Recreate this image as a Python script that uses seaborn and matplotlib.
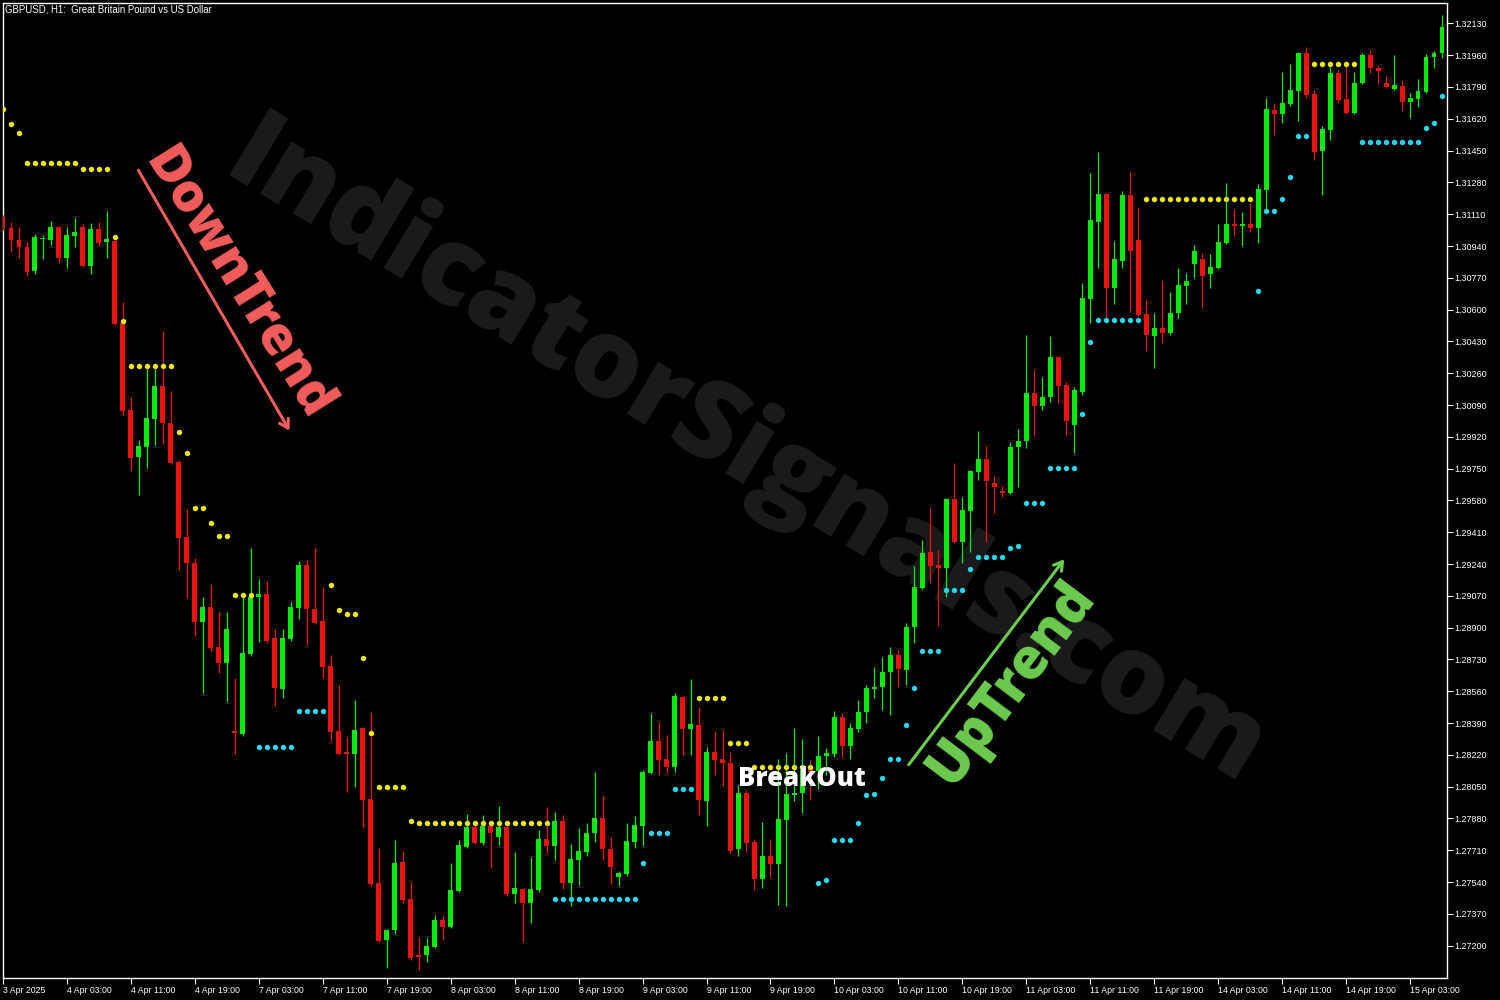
import numpy as np
import pandas as pd
import matplotlib
matplotlib.use("Agg")
import matplotlib.pyplot as plt
import seaborn as sns

# GBPUSD H1 candles (bar 0 = 3 Apr 2025 19:00)
open_ = [
    1.31095, 1.31036, 1.30972, 1.30934, 1.30806, 1.30977, 1.30972, 1.31041, 1.30876, 1.30993,
    1.31041, 1.30833, 1.31031, 1.30961, 1.30967, 1.30528, 1.30063, 1.29812, 1.29865, 1.30015,
    1.30191, 1.29994, 1.29785, 1.29384, 1.29245, 1.28930, 1.29010, 1.28796, 1.28711, 1.28347,
    1.28331, 1.28759, 1.29063, 1.29080, 1.28844, 1.28572, 1.28839, 1.29005, 1.29235, 1.28999,
    1.28935, 1.28695, 1.28347, 1.28235, 1.28224, 1.28363, 1.27984, 1.27535, 1.27230, 1.27283,
    1.27647, 1.27449, 1.27150, 1.27150, 1.27192, 1.27337, 1.27299, 1.27492, 1.27727, 1.27834,
    1.27748, 1.27839, 1.27780, 1.27834, 1.27476, 1.27502, 1.27428, 1.27497, 1.27770, 1.27732,
    1.27866, 1.27535, 1.27657, 1.27700, 1.27802, 1.27882, 1.27716, 1.27567, 1.27583, 1.27754,
    1.27839, 1.28123, 1.28294, 1.28197, 1.28155, 1.28529, 1.28358, 1.28379, 1.27973, 1.28235,
    1.28197, 1.28176, 1.27716, 1.28016, 1.27754, 1.27556, 1.27679, 1.27636, 1.27871, 1.28005,
    1.28016, 1.28149, 1.28133, 1.28213, 1.28224, 1.28422, 1.28267, 1.28358, 1.28449, 1.28572,
    1.28582, 1.28663, 1.28753, 1.28673, 1.28903, 1.29112, 1.29304, 1.29235, 1.29218, 1.29587,
    1.29357, 1.29523, 1.29732, 1.29801, 1.29673, 1.29630, 1.29619, 1.29865, 1.29897, 1.30154,
    1.30085, 1.30133, 1.30346, 1.30197, 1.29983, 1.30159, 1.30657, 1.31068, 1.31218, 1.30715,
    1.30860, 1.31213, 1.30972, 1.30576, 1.30459, 1.30502, 1.30475, 1.30582, 1.30726, 1.30844,
    1.30870, 1.30790, 1.30822, 1.30956, 1.31058, 1.31047, 1.31058, 1.31036, 1.31239, 1.31667,
    1.31646, 1.31699, 1.31769, 1.31972, 1.31753, 1.31448, 1.31560, 1.31865, 1.31726, 1.31651,
    1.31811, 1.31961, 1.31891, 1.31811, 1.31779, 1.31795, 1.31710, 1.31726, 1.31763, 1.31950,
    1.31972,
]
high = [
    1.31106, 1.31068, 1.31041, 1.30961, 1.31004, 1.30999, 1.31074, 1.31047, 1.31041, 1.31090,
    1.31058, 1.31063, 1.31068, 1.31127, 1.30999, 1.30641, 1.30133, 1.29903, 1.30288, 1.30288,
    1.30486, 1.30165, 1.29796, 1.29534, 1.29272, 1.29063, 1.29133, 1.28983, 1.28983, 1.28630,
    1.29063, 1.29325, 1.29160, 1.29149, 1.28892, 1.28892, 1.29037, 1.29256, 1.29261, 1.29325,
    1.29117, 1.28753, 1.28593, 1.28315, 1.28513, 1.28369, 1.28449, 1.27722, 1.27289, 1.27764,
    1.27706, 1.27540, 1.27246, 1.27240, 1.27363, 1.27363, 1.27641, 1.27764, 1.27903, 1.27845,
    1.27898, 1.27845, 1.27946, 1.27839, 1.27700, 1.27508, 1.27673, 1.27818, 1.27941, 1.27914,
    1.27898, 1.27743, 1.27828, 1.27855, 1.28128, 1.27999, 1.27780, 1.27599, 1.27855, 1.27893,
    1.28139, 1.28443, 1.28395, 1.28326, 1.28550, 1.28534, 1.28625, 1.28475, 1.28261, 1.28347,
    1.28352, 1.28235, 1.28058, 1.28032, 1.27770, 1.27861, 1.27770, 1.28197, 1.28230, 1.28363,
    1.28304, 1.28192, 1.28320, 1.28256, 1.28454, 1.28443, 1.28390, 1.28513, 1.28593, 1.28689,
    1.28743, 1.28796, 1.28780, 1.28924, 1.29229, 1.29368, 1.29545, 1.29315, 1.29593, 1.29780,
    1.29598, 1.29742, 1.29951, 1.29871, 1.29710, 1.29657, 1.29892, 1.29962, 1.30464, 1.30277,
    1.30240, 1.30459, 1.30352, 1.30213, 1.30186, 1.30742, 1.31330, 1.31442, 1.31223, 1.30967,
    1.31234, 1.31335, 1.31148, 1.30651, 1.30582, 1.30758, 1.30694, 1.30822, 1.30796, 1.30945,
    1.30902, 1.30897, 1.31058, 1.31277, 1.31138, 1.31122, 1.31170, 1.31271, 1.31731, 1.31704,
    1.31870, 1.31913, 1.31977, 1.32004, 1.31774, 1.31581, 1.31897, 1.31881, 1.31908, 1.31870,
    1.31972, 1.31988, 1.31902, 1.31849, 1.31961, 1.31827, 1.31758, 1.31833, 1.31966, 1.31982,
    1.32175,
]
low = [
    1.31025, 1.30908, 1.30876, 1.30780, 1.30790, 1.30870, 1.30945, 1.30849, 1.30822, 1.30934,
    1.30828, 1.30790, 1.30940, 1.30876, 1.30518, 1.30036, 1.29737, 1.29609, 1.29753, 1.29876,
    1.29881, 1.29774, 1.29208, 1.29058, 1.28855, 1.28550, 1.28775, 1.28657, 1.28502, 1.28224,
    1.28320, 1.28748, 1.28823, 1.28818, 1.28481, 1.28524, 1.28828, 1.28946, 1.28807, 1.28919,
    1.28630, 1.28294, 1.28219, 1.28021, 1.28048, 1.27834, 1.27518, 1.27219, 1.27080, 1.27262,
    1.27428, 1.27123, 1.27069, 1.27112, 1.27187, 1.27230, 1.27294, 1.27486, 1.27722, 1.27743,
    1.27738, 1.27615, 1.27738, 1.27465, 1.27428, 1.27219, 1.27321, 1.27486, 1.27695, 1.27657,
    1.27502, 1.27411, 1.27524, 1.27679, 1.27754, 1.27657, 1.27529, 1.27518, 1.27572, 1.27722,
    1.27732, 1.28117, 1.28112, 1.28123, 1.28128, 1.28219, 1.28219, 1.27898, 1.27839, 1.28112,
    1.28053, 1.27695, 1.27679, 1.27700, 1.27497, 1.27508, 1.27567, 1.27417, 1.27411, 1.27973,
    1.27909, 1.27978, 1.28037, 1.28112, 1.28208, 1.28208, 1.28197, 1.28342, 1.28390, 1.28524,
    1.28459, 1.28433, 1.28582, 1.28593, 1.28818, 1.29106, 1.29138, 1.28908, 1.29063, 1.29352,
    1.29245, 1.29304, 1.29689, 1.29357, 1.29513, 1.29598, 1.29614, 1.29652, 1.29860, 1.29924,
    1.30063, 1.30106, 1.30101, 1.29930, 1.29833, 1.30143, 1.30528, 1.30822, 1.30555, 1.30630,
    1.30822, 1.30587, 1.30566, 1.30379, 1.30288, 1.30421, 1.30464, 1.30555, 1.30630, 1.30769,
    1.30608, 1.30715, 1.30817, 1.30951, 1.30993, 1.30940, 1.31015, 1.30956, 1.31132, 1.31533,
    1.31597, 1.31688, 1.31608, 1.31731, 1.31400, 1.31213, 1.31507, 1.31710, 1.31646, 1.31646,
    1.31806, 1.31865, 1.31806, 1.31785, 1.31774, 1.31662, 1.31624, 1.31683, 1.31758, 1.31891,
    1.31945,
]
close = [
    1.31041, 1.30972, 1.30934, 1.30801, 1.30988, 1.30983, 1.31041, 1.30876, 1.30999, 1.31015,
    1.30833, 1.31031, 1.30956, 1.30977, 1.30523, 1.30058, 1.29807, 1.29871, 1.30020, 1.30191,
    1.29994, 1.29780, 1.29379, 1.29245, 1.28930, 1.29010, 1.28791, 1.28711, 1.28892, 1.28336,
    1.28764, 1.29063, 1.29080, 1.28828, 1.28577, 1.28844, 1.29010, 1.29235, 1.28999, 1.28924,
    1.28689, 1.28342, 1.28224, 1.28224, 1.28352, 1.27978, 1.27529, 1.27224, 1.27283, 1.27641,
    1.27444, 1.27134, 1.27139, 1.27198, 1.27337, 1.27299, 1.27497, 1.27738, 1.27834, 1.27748,
    1.27839, 1.27802, 1.27834, 1.27476, 1.27508, 1.27428, 1.27502, 1.27770, 1.27732, 1.27866,
    1.27535, 1.27663, 1.27706, 1.27802, 1.27882, 1.27716, 1.27620, 1.27588, 1.27759, 1.27845,
    1.28128, 1.28294, 1.28192, 1.28155, 1.28534, 1.28358, 1.28384, 1.27978, 1.28235, 1.28192,
    1.28176, 1.27706, 1.28016, 1.27748, 1.27556, 1.27679, 1.27636, 1.27877, 1.28010, 1.28016,
    1.28139, 1.28128, 1.28213, 1.28230, 1.28422, 1.28267, 1.28363, 1.28449, 1.28577, 1.28582,
    1.28663, 1.28753, 1.28679, 1.28903, 1.29117, 1.29299, 1.29229, 1.29218, 1.29587, 1.29357,
    1.29528, 1.29737, 1.29801, 1.29684, 1.29652, 1.29619, 1.29865, 1.29897, 1.30154, 1.30085,
    1.30133, 1.30346, 1.30191, 1.30004, 1.30170, 1.30662, 1.31079, 1.31218, 1.30715, 1.30870,
    1.31213, 1.30913, 1.30571, 1.30464, 1.30502, 1.30475, 1.30582, 1.30731, 1.30753, 1.30913,
    1.30780, 1.30828, 1.30961, 1.31058, 1.31047, 1.31058, 1.31036, 1.31245, 1.31672, 1.31646,
    1.31704, 1.31774, 1.31972, 1.31747, 1.31442, 1.31565, 1.31865, 1.31720, 1.31651, 1.31811,
    1.31961, 1.31891, 1.31875, 1.31790, 1.31801, 1.31710, 1.31731, 1.31769, 1.31950, 1.31972,
    1.32111,
]

# resistance (yellow) and support (cyan) dots: bar index and level
res_bar = [0, 1, 2, 3, 4, 5, 6, 7, 8, 9, 10, 11, 12, 13, 14, 15,
           16, 17, 18, 19, 20, 21, 22, 23, 24, 25, 26, 27, 28, 29, 30, 31,
           41, 42, 43, 44, 45, 46, 47, 48, 49, 50, 51,
           52, 53, 54, 55, 56, 57, 58, 59, 60, 61, 62, 63, 64, 65, 66, 67, 68,
           87, 88, 89, 90, 91, 92, 93, 94, 95, 96, 97, 98, 99, 100, 101,
           143, 144, 145, 146, 147, 148, 149, 150, 151, 152, 153, 154, 155, 156,
           164, 165, 166, 167, 168, 169]
res_level = [1.31671, 1.31590, 1.31542, 1.31382, 1.31382, 1.31382, 1.31382, 1.31382, 1.31382, 1.31382,
             1.31350, 1.31350, 1.31350, 1.31350, 1.30990, 1.30541,
             1.30298, 1.30298, 1.30298, 1.30298, 1.30298, 1.30298, 1.29944, 1.29832, 1.29538, 1.29538,
             1.29457, 1.29388, 1.29388, 1.29072, 1.29072, 1.29072,
             1.29126, 1.28992, 1.28971, 1.28971, 1.28736, 1.28335, 1.28046, 1.28046, 1.28046, 1.28046, 1.27864,
             1.27854, 1.27854, 1.27854, 1.27854, 1.27854, 1.27854, 1.27854, 1.27854, 1.27854, 1.27854,
             1.27854, 1.27854, 1.27854, 1.27854, 1.27854, 1.27854, 1.27854,
             1.28522, 1.28522, 1.28522, 1.28522, 1.28281, 1.28281, 1.28281, 1.28153, 1.28153, 1.28153,
             1.28153, 1.28153, 1.28153, 1.28153, 1.28153,
             1.31190, 1.31190, 1.31190, 1.31190, 1.31190, 1.31190, 1.31190, 1.31190, 1.31190, 1.31190,
             1.31190, 1.31190, 1.31190, 1.31190,
             1.31911, 1.31911, 1.31911, 1.31911, 1.31911, 1.31911]
sup_bar = [32, 33, 34, 35, 36, 37, 38, 39, 40,
           69, 70, 71, 72, 73, 74, 75, 76, 77, 78, 79, 80, 81, 82, 83, 84, 85, 86,
           102, 103, 104, 105, 106, 107, 108, 109, 110, 111, 112, 113, 114, 115, 116, 117,
           118, 119, 120, 121, 122, 123, 124, 125, 126, 127, 128, 129, 130,
           131, 132, 133, 134, 135, 136, 137, 138, 139, 140, 141, 142,
           157, 158, 159, 160, 161, 162, 163,
           170, 171, 172, 173, 174, 175, 176, 177, 178, 179, 180]
sup_level = [1.28260, 1.28260, 1.28260, 1.28260, 1.28260, 1.28452, 1.28452, 1.28452, 1.28452,
             1.27447, 1.27447, 1.27447, 1.27447, 1.27447, 1.27447, 1.27447, 1.27447, 1.27447, 1.27447,
             1.27447, 1.27640, 1.27800, 1.27800, 1.27800, 1.28035, 1.28035, 1.28035,
             1.27533, 1.27550, 1.27763, 1.27763, 1.27763, 1.27854, 1.28003, 1.28009, 1.28094, 1.28196,
             1.28196, 1.28378, 1.28575, 1.28773, 1.28773, 1.28773,
             1.29101, 1.29101, 1.29101, 1.29212, 1.29276, 1.29276, 1.29276, 1.29276, 1.29324, 1.29338,
             1.29564, 1.29564, 1.29564,
             1.29752, 1.29752, 1.29752, 1.29752, 1.30040, 1.30425, 1.30543, 1.30543, 1.30543, 1.30543,
             1.30543, 1.30543,
             1.30698, 1.31125, 1.31125, 1.31190, 1.31307, 1.31526, 1.31526,
             1.31494, 1.31494, 1.31494, 1.31494, 1.31494, 1.31494, 1.31494, 1.31494, 1.31569, 1.31596,
             1.31740]

time_bar = [0, 8, 16, 24, 32, 40, 48, 56, 64, 72, 80, 88, 96, 104, 112, 120, 128, 136, 144, 152,
            160, 168, 176]
time_labels = ["3 Apr 2025", "4 Apr 03:00", "4 Apr 11:00", "4 Apr 19:00", "7 Apr 03:00",
               "7 Apr 11:00", "7 Apr 19:00", "8 Apr 03:00", "8 Apr 11:00", "8 Apr 19:00",
               "9 Apr 03:00", "9 Apr 11:00", "9 Apr 19:00", "10 Apr 03:00", "10 Apr 11:00",
               "10 Apr 19:00", "11 Apr 03:00", "11 Apr 11:00", "11 Apr 19:00", "14 Apr 03:00",
               "14 Apr 11:00", "14 Apr 19:00", "15 Apr 03:00"]
price_ticks = [1.27200, 1.27370, 1.27540, 1.27710, 1.27880, 1.28050, 1.28220, 1.28390, 1.28560,
               1.28730, 1.28900, 1.29070, 1.29240, 1.29410, 1.29580, 1.29750, 1.29920, 1.30090,
               1.30260, 1.30430, 1.30600, 1.30770, 1.30940, 1.31110, 1.31280, 1.31450, 1.31620,
               1.31790, 1.31960, 1.32130]

GREEN = "#00ec00"
RED = "#f01010"
YELLOW = "#f4ee00"
CYAN = "#1ed8ee"

sns.set_theme(style="dark", rc={"axes.facecolor": "black", "figure.facecolor": "black",
                                "axes.edgecolor": "white", "axes.grid": False})
plt.rcParams["font.family"] = ["Liberation Sans", "DejaVu Sans"]

fig = plt.figure(figsize=(15, 10), dpi=100)
ax = fig.add_axes([3 / 1500, 22 / 1000, 1444 / 1500, 975 / 1000])
ax.set_facecolor("black")

candles = pd.DataFrame({"open": open_, "high": high, "low": low, "close": close})
candles["bar"] = np.arange(len(candles))
colors = np.where(candles["close"] >= candles["open"], GREEN, RED)

ax.vlines(candles["bar"], candles["low"], candles["high"], colors=colors, linewidth=0.9, zorder=3)
ax.bar(candles["bar"], candles["close"] - candles["open"], bottom=candles["open"],
       width=0.62, color=colors, linewidth=0, zorder=4)

sns.scatterplot(x=res_bar, y=res_level, color=YELLOW, s=15, linewidth=0, ax=ax, zorder=5)
sns.scatterplot(x=sup_bar, y=sup_level, color=CYAN, s=15, linewidth=0, ax=ax, zorder=5)

ax.set_xlim(0.125, 180.625)
ax.set_ylim(1.27027, 1.32239)

ax.set_xticks(time_bar)
ax.set_xticklabels(time_labels, ha="left")
ax.set_yticks(price_ticks)
ax.set_yticklabels([f"{p:.5f}" for p in price_ticks])
ax.yaxis.tick_right()
ax.tick_params(axis="x", bottom=True, length=4, width=0.8, colors="white", labelsize=6.3, pad=1.5)
ax.tick_params(axis="y", right=True, left=False, length=4, width=0.8, colors="white",
               labelsize=6.5, pad=1.5)
for s in ax.spines.values():
    s.set_color("white")
    s.set_linewidth(1)
ax.set_xlabel("")
ax.set_ylabel("")

bold = ["Open Sans", "DejaVu Sans"]
ax.text(745 / 1500, 1 - 455 / 1000, "IndicatorSignals.com", transform=fig.transFigure, rotation=-31,
        ha="center", va="center", fontsize=79, fontweight="heavy", family=bold,
        color="#1b1b1b", zorder=1, rotation_mode="anchor")

ax.text(238 / 1500, 1 - 285 / 1000, "DownTrend", transform=fig.transFigure, rotation=-58,
        ha="center", va="center", fontsize=38, fontweight="heavy", family=bold,
        color="#f25c5c", zorder=7, rotation_mode="anchor")
ax.annotate("", xy=(291 / 1500, 1 - 433 / 1000), xytext=(137 / 1500, 1 - 168 / 1000),
            xycoords="figure fraction", textcoords="figure fraction",
            arrowprops=dict(arrowstyle="->,head_length=0.5,head_width=0.3", color="#f25c5c", lw=2.2),
            zorder=7)

ax.text(1012 / 1500, 1 - 683 / 1000, "UpTrend", transform=fig.transFigure, rotation=53,
        ha="center", va="center", fontsize=40, fontweight="heavy", family=bold,
        color="#6ccc4e", zorder=7, rotation_mode="anchor")
ax.annotate("", xy=(1066 / 1500, 1 - 557 / 1000), xytext=(907 / 1500, 1 - 767 / 1000),
            xycoords="figure fraction", textcoords="figure fraction",
            arrowprops=dict(arrowstyle="->,head_length=0.5,head_width=0.3", color="#6ccc4e", lw=2.2),
            zorder=7)

ax.text(802 / 1500, 1 - 779 / 1000, "BreakOut", transform=fig.transFigure,
        ha="center", va="center", fontsize=18.5, fontweight="heavy", family=bold,
        color="white", zorder=7)

fig.text(5 / 1500, 1 - 9 / 1000, "GBPUSD, H1:  Great Britain Pound vs US Dollar",
         ha="left", va="center", fontsize=6.9, color="white")

fig.savefig("out.png", dpi=100, facecolor="black")
